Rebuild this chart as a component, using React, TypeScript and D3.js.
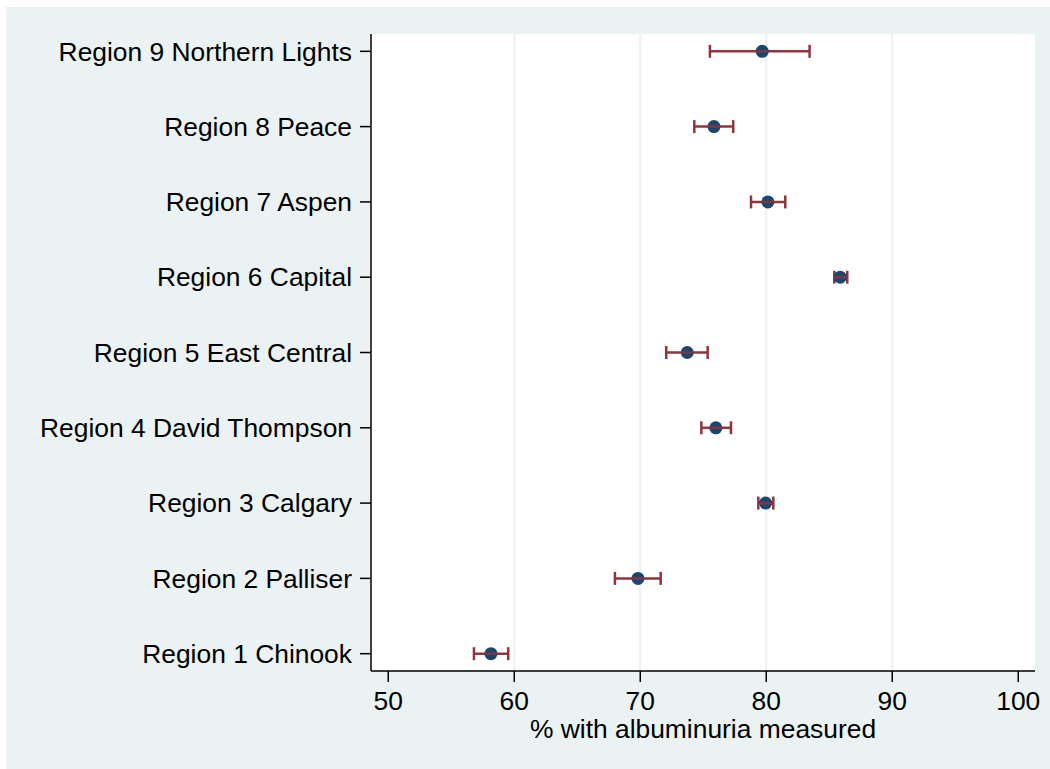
import React from "react";
import * as d3 from "d3";

const regions = [
  "Region 1 Chinook",
  "Region 2 Palliser",
  "Region 3 Calgary",
  "Region 4 David Thompson",
  "Region 5 East Central",
  "Region 6 Capital",
  "Region 7 Aspen",
  "Region 8 Peace",
  "Region 9 Northern Lights",
];
const estimates = [58.15, 69.82, 79.95, 76.0, 73.73, 85.87, 80.13, 75.85, 79.68];
const lowerCI = [56.8, 67.99, 79.37, 74.85, 72.06, 85.4, 78.79, 74.29, 75.53];
const upperCI = [59.52, 71.62, 80.56, 77.2, 75.35, 86.43, 81.51, 77.38, 83.44];
const xTicks = [50, 60, 70, 80, 90, 100];
const xTitle = "% with albuminuria measured";

export default function App() {
  const W = 1050, H = 769;
  const left = 371, right = 1035, top = 34, bottom = 671;
  const x = d3.scaleLinear().domain([48.63, 101.33]).range([left, right]);
  const y = d3.scaleLinear().domain([0.77, 9.23]).range([bottom, top]);
  const font = "'Liberation Sans', Arial, Helvetica, sans-serif";
  const fs = 26.4;
  const navy = "#1A476F";
  const maroon = "#90353B";
  const grid = "#EAF2F3";
  return (
    <svg width={W} height={H} style={{ position: "absolute", left: 0, top: 0 }} fontFamily={font}>
      <rect x={0} y={0} width={W} height={H} fill="#ffffff" />
      <rect x={6} y={7} width={W - 6} height={H - 7} fill={grid} />
      <rect x={left} y={top} width={right - left} height={bottom - top} fill="#ffffff" />
      {xTicks.filter((t) => t > 50 && t < 100).map((t) => (
        <line key={"g" + t} x1={x(t)} x2={x(t)} y1={top} y2={bottom} stroke={grid} strokeWidth={2} />
      ))}
      <line x1={left} x2={left} y1={top} y2={bottom} stroke="#000" strokeWidth={1.5} />
      <line x1={left} x2={right} y1={bottom} y2={bottom} stroke="#000" strokeWidth={1.5} />
      {xTicks.map((t) => (
        <g key={"t" + t}>
          <line x1={x(t)} x2={x(t)} y1={bottom} y2={bottom + 11} stroke="#000" strokeWidth={1.5} />
          <text x={x(t)} y={710} textAnchor="middle" fontSize={fs} fill="#000">{t}</text>
        </g>
      ))}
      <text x={(left + right) / 2} y={738} textAnchor="middle" fontSize={fs} fill="#000">{xTitle}</text>
      {regions.map((r, i) => (
        <g key={r}>
          <line x1={left - 11} x2={left} y1={y(i + 1)} y2={y(i + 1)} stroke="#000" strokeWidth={1.5} />
          <text x={352} y={y(i + 1)} dy="0.35em" textAnchor="end" fontSize={fs} fill="#000">{r}</text>
        </g>
      ))}
      {regions.map((r, i) => {
        const cy = y(i + 1);
        return (
          <g key={"d" + r}>
            <line x1={x(lowerCI[i])} x2={x(upperCI[i])} y1={cy} y2={cy} stroke={maroon} strokeWidth={2.5} />
            <line x1={x(lowerCI[i])} x2={x(lowerCI[i])} y1={cy - 6.5} y2={cy + 6.5} stroke={maroon} strokeWidth={2.5} />
            <line x1={x(upperCI[i])} x2={x(upperCI[i])} y1={cy - 6.5} y2={cy + 6.5} stroke={maroon} strokeWidth={2.5} />
            <circle cx={x(estimates[i])} cy={cy} r={6.5} fill={navy} />
            <line x1={x(estimates[i]) - 6} x2={x(estimates[i]) + 6} y1={cy} y2={cy} stroke={maroon} strokeWidth={2.5} opacity={0.85} />
          </g>
        );
      })}
    </svg>
  );
}
